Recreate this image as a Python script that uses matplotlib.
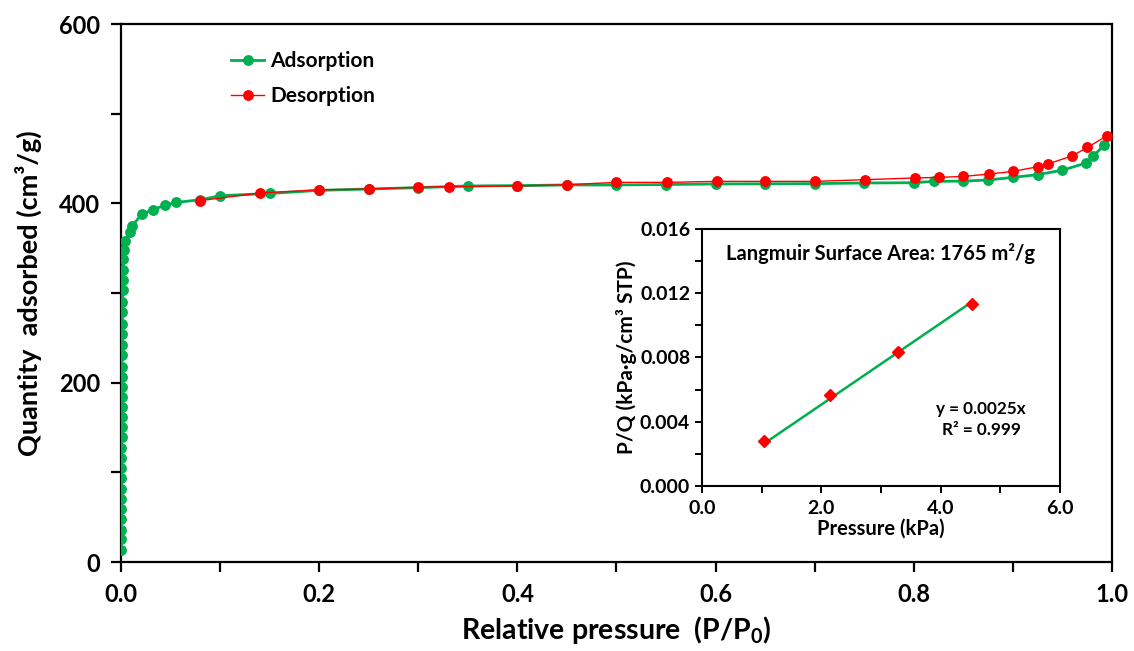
import numpy as np
import matplotlib
matplotlib.use('Agg')
import matplotlib.pyplot as plt
from matplotlib.ticker import MultipleLocator

# ---- isotherm data (P/P0, cm3/g) ----
ads_p = [0.0000, 0.0001, 0.0001, 0.0002, 0.0002, 0.0003, 0.0003, 0.0004, 0.0004, 0.0005,
         0.0005, 0.0006, 0.0006, 0.0007, 0.0007, 0.0008, 0.0008, 0.0009, 0.0009, 0.0010,
         0.0011, 0.0012, 0.0013, 0.0014, 0.0015, 0.0016, 0.0018, 0.0020, 0.0023, 0.0027,
         0.004, 0.009, 0.0114, 0.021, 0.032, 0.044, 0.0555,
         0.08, 0.10, 0.15, 0.20, 0.25, 0.30, 0.35, 0.40, 0.45, 0.50,
         0.55, 0.60, 0.65, 0.70, 0.75, 0.80, 0.82, 0.85, 0.875, 0.90,
         0.925, 0.95, 0.974, 0.981, 0.992]
ads_q = [13.4, 25.2, 35.6, 47.5, 58.6, 69.8, 81.3, 93.2, 105.0, 116.5,
         127.7, 139.6, 150.7, 161.8, 173.0, 184.0, 195.0, 206.0, 217.5, 230.5,
         241.6, 254.6, 265.8, 278.7, 289.9, 302.9, 314.0, 325.9, 338.0, 348.1,
         358.5, 367.7, 375.0, 388.0, 392.6, 398.0, 401.0,
         404.0, 408.5, 411.0, 414.5, 416.0, 417.5, 419.4, 419.8, 420.5, 420.5,
         421.0, 421.6, 421.8, 422.0, 422.7, 423.0, 424.5, 424.8, 426.0, 429.0,
         432.0, 437.0, 445.0, 452.5, 465.0]

des_p = [0.995, 0.975, 0.960, 0.935, 0.925, 0.900, 0.876, 0.850, 0.825, 0.801,
         0.751, 0.700, 0.650, 0.601, 0.551, 0.500, 0.450, 0.400, 0.331, 0.300,
         0.250, 0.200, 0.140, 0.080]
des_q = [475.3, 462.3, 453.0, 443.8, 440.8, 435.6, 432.7, 430.0, 429.0, 428.3,
         426.4, 424.5, 424.5, 424.5, 423.4, 423.4, 420.8, 419.4, 418.6, 418.0,
         416.0, 415.0, 411.6, 403.0]

# ---- Langmuir plot data ----
lang_p = [1.04, 2.15, 3.29, 4.53]          # kPa
lang_pq = [0.00282, 0.00567, 0.00832, 0.01133]

GREEN = '#00B050'
RED = '#FF0000'

plt.rcParams['font.family'] = ['Lato', 'DejaVu Sans']
plt.rcParams['font.weight'] = 'bold'
plt.rcParams['mathtext.fontset'] = 'custom'
plt.rcParams['mathtext.rm'] = 'Lato'
plt.rcParams['mathtext.bf'] = 'Lato:bold'
plt.rcParams['mathtext.it'] = 'Lato:italic'


def main():
    fig = plt.figure(figsize=(11.34, 6.51), dpi=100)
    ax = fig.add_axes([0.1067, 0.1367, 0.8739, 0.8264])

    ax.plot(ads_p, ads_q, '-o', color=GREEN, lw=2.0, ms=6.8, label='Adsorption', zorder=3)
    ax.plot(des_p, des_q, '-o', color=RED, lw=1.0, ms=6.8, label='Desorption', zorder=4)

    ax.set_xlim(0, 1.0)
    ax.set_ylim(0, 600)
    ax.xaxis.set_major_locator(MultipleLocator(0.2))
    ax.xaxis.set_minor_locator(MultipleLocator(0.1))
    ax.yaxis.set_major_locator(MultipleLocator(200))
    ax.yaxis.set_minor_locator(MultipleLocator(100))
    ax.xaxis.set_major_formatter(lambda v, p: f'{v:.1f}')
    ax.tick_params(which='both', direction='out', width=1.6, length=7, labelsize=17)
    ax.tick_params(which='major', pad=8)
    ax.tick_params(top=False, right=False, which='both')
    for s in ax.spines.values():
        s.set_linewidth(1.6)

    ax.set_xlabel(r'Relative pressure  (P/P$_\mathbf{0}$)', fontsize=20.5, fontweight='bold', labelpad=6)
    ax.set_ylabel('Quantity  adsorbed (cm³/g)', fontsize=19.5, fontweight='bold', labelpad=12)

    leg = ax.legend(loc='upper left', bbox_to_anchor=(0.092, 0.985), frameon=False,
                    fontsize=15, handlelength=1.6, labelspacing=0.75, handletextpad=0.3)
    for t in leg.get_texts():
        t.set_fontweight('bold')

    # ---- inset Langmuir plot ----
    ins = fig.add_axes([0.619, 0.2535, 0.3157, 0.3948])
    slope = np.sum(np.array(lang_p) * np.array(lang_pq)) / np.sum(np.array(lang_p) ** 2)
    xs = np.array([lang_p[0], lang_p[-1]])
    ins.plot(xs, slope * xs, color=GREEN, lw=1.8, zorder=2)
    ins.plot(lang_p, lang_pq, 'D', color=RED, ms=6, zorder=3)
    ins.set_xlim(0, 6.0)
    ins.set_ylim(0, 0.016)
    ins.xaxis.set_major_locator(MultipleLocator(2.0))
    ins.xaxis.set_minor_locator(MultipleLocator(1.0))
    ins.yaxis.set_major_locator(MultipleLocator(0.004))
    ins.yaxis.set_minor_locator(MultipleLocator(0.002))
    ins.xaxis.set_major_formatter(lambda v, p: f'{v:.1f}')
    ins.yaxis.set_major_formatter(lambda v, p: f'{v:.3f}')
    ins.tick_params(which='both', direction='out', width=1.4, length=5, labelsize=14)
    ins.tick_params(axis='x', pad=5)
    for s in ins.spines.values():
        s.set_linewidth(1.5)
    ins.set_xlabel('Pressure (kPa)', fontsize=14.5, fontweight='bold', labelpad=1)
    ins.set_ylabel('P/Q (kPa·g/cm³ STP)', fontsize=15, fontweight='bold', labelpad=2)
    ins.text(0.5, 0.905, 'Langmuir Surface Area: 1765 m²/g', transform=ins.transAxes,
             ha='center', va='center', fontsize=14.5, fontweight='bold')
    ins.text(0.78, 0.26, f'y = {slope:.4f}x\nR² = 0.999', transform=ins.transAxes,
             ha='center', va='center', fontsize=12.3, fontweight='bold', linespacing=1.4)

    fig.savefig('out.png', dpi=100)


if __name__ == '__main__':
    main()
